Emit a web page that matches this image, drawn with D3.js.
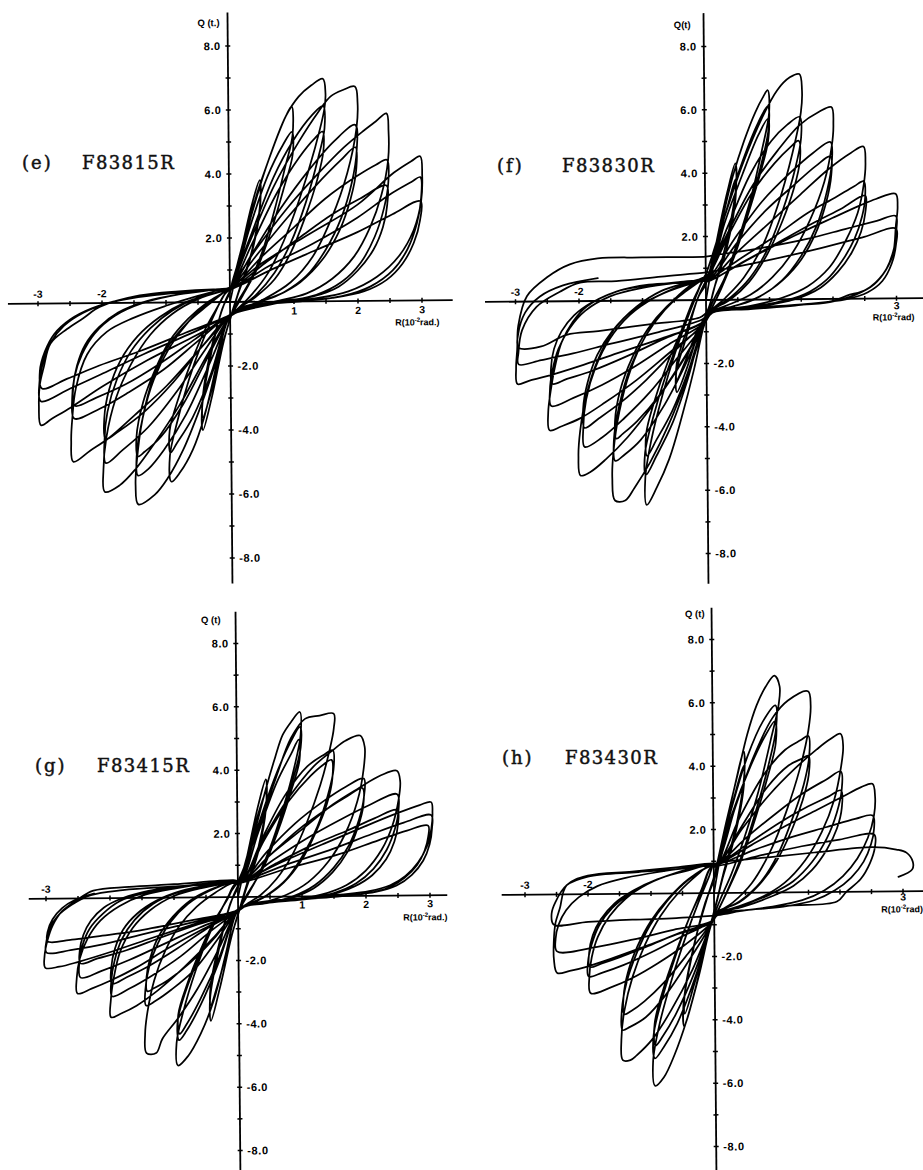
<!DOCTYPE html>
<html>
<head>
<meta charset="utf-8">
<script src="https://cdn.jsdelivr.net/npm/d3@7"></script>
<style>
  body { margin: 0; background: #fff; }
  svg { display: block; }
</style>
</head>
<body>
<svg id="chart" width="923" height="1170"></svg>
<script>
// ---- Text content ----
const panelTags = ["(e)", "(f)", "(g)", "(h)"];
const specimenNames = ["F83815R", "F83830R", "F83415R", "F83430R"];
const qAxisTitles = ["Q (t.)", "Q(t)", "Q (t)", "Q (t)"];
const rAxisTails = ["rad.)", "rad)", "rad.)", "rad)"];
const qTickValues = [8, 6, 4, 2, -2, -4, -6, -8];
const qTickLabels = ["8.0", "6.0", "4.0", "2.0", "-2.0", "-4.0", "-6.0", "-8.0"];
const rLabelsE = [-3, -2, 1, 2, 3];
const rLabelsF = [-3, -2, 3];
const rLabelsG = [-3, 1, 2, 3];
const rLabelsH = [-3, -2, 3];

// ---- Load–deflection records: each cycle is a list of [R (1e-2 rad), Q (t)] ----
const loopsE = [
 [[0,0],[0.15,1.3],[0.35,3.0],[0.48,3.8],[0.49,3.2],[0.35,1.6],[0.15,0.4],[0.05,-0.2],[-0.1,-1.2],[-0.3,-3.0],[-0.44,-4.0],[-0.45,-3.3],[-0.3,-1.6],[-0.12,-0.2],[0,0.3]],
 [[0.15,1.4],[0.36,2.9],[0.48,3.5],[0.48,2.9],[0.33,1.4],[0.12,0.2],[0.04,-0.3],[-0.12,-1.3],[-0.32,-2.9],[-0.44,-3.6],[-0.44,-3.0],[-0.28,-1.3],[-0.08,0],[0,0.35]],
 [[0.05,0.7],[0.25,2.0],[0.44,3.4],[0.6,4.3],[0.75,5.1],[0.9,5.8],[0.99,6.1],[1.0,5.2],[0.88,4.2],[0.7,2.8],[0.5,1.5],[0.3,0.6],[0.12,0],[0.05,-0.3],[-0.05,-0.6],[-0.2,-1.8],[-0.42,-3.6],[-0.6,-4.6],[-0.8,-5.3],[-0.94,-5.6],[-0.96,-4.8],[-0.85,-3.8],[-0.65,-2.4],[-0.45,-1.3],[-0.25,-0.4],[-0.1,0.2],[0,0.4]],
 [[0.05,0.5],[0.3,2.2],[0.6,3.9],[0.85,4.9],[0.99,5.3],[1.0,4.6],[0.85,3.5],[0.65,2.2],[0.42,1.0],[0.2,0.2],[0.05,-0.3],[-0.05,-0.6],[-0.3,-2.2],[-0.6,-3.6],[-0.85,-4.4],[-0.95,-4.7],[-0.96,-4.0],[-0.82,-3.0],[-0.6,-1.8],[-0.38,-0.8],[-0.18,-0.1],[-0.05,0.35]],
 [[0.05,0.6],[0.3,2.4],[0.6,4.3],[0.9,5.8],[1.1,6.4],[1.3,6.75],[1.48,6.95],[1.52,6.5],[1.5,6.0],[1.35,4.8],[1.1,3.2],[0.85,1.9],[0.6,0.9],[0.35,0.25],[0.1,-0.25],[0,-0.4],[-0.25,-2.0],[-0.5,-3.4],[-0.75,-4.6],[-1.0,-5.5],[-1.2,-6.0],[-1.46,-6.3],[-1.5,-5.7],[-1.48,-5.0],[-1.38,-3.6],[-1.2,-2.3],[-0.95,-1.3],[-0.65,-0.6],[-0.35,-0.1],[-0.1,0.3]],
 [[0,0.45],[0.3,1.9],[0.7,3.9],[1.0,5.0],[1.3,5.8],[1.48,6.1],[1.5,5.4],[1.4,4.5],[1.2,3.1],[0.95,1.8],[0.7,0.9],[0.4,0.2],[0.1,-0.25],[0,-0.45],[-0.3,-1.8],[-0.7,-3.5],[-1.05,-4.6],[-1.3,-5.2],[-1.46,-5.4],[-1.48,-4.8],[-1.38,-3.6],[-1.2,-2.4],[-0.95,-1.4],[-0.65,-0.6],[-0.35,-0.05],[-0.1,0.3]],
 [[0,0.4],[0.35,1.8],[0.75,3.4],[1.1,4.5],[1.35,5.1],[1.47,5.3],[1.48,4.7],[1.38,3.8],[1.18,2.6],[0.95,1.5],[0.7,0.7],[0.4,0.15],[0.1,-0.25],[0,-0.45],[-0.35,-1.7],[-0.75,-3.2],[-1.1,-4.2],[-1.35,-4.65],[-1.46,-4.8],[-1.48,-4.2],[-1.37,-3.1],[-1.18,-2.1],[-0.95,-1.2],[-0.65,-0.5],[-0.35,0],[-0.1,0.3]],
 [[0,0.45],[0.3,1.8],[0.7,3.6],[1.1,5.0],[1.4,5.9],[1.6,6.4],[1.8,6.6],[1.98,6.7],[2.02,6.2],[2.0,5.4],[1.85,4.0],[1.6,2.6],[1.3,1.4],[0.95,0.6],[0.55,0.1],[0.15,-0.25],[0,-0.45],[-0.35,-1.6],[-0.8,-3.2],[-1.2,-4.4],[-1.5,-5.2],[-1.75,-5.7],[-1.98,-5.9],[-2.0,-5.2],[-1.95,-4.2],[-1.8,-3.0],[-1.55,-1.9],[-1.25,-1.0],[-0.9,-0.35],[-0.5,0.1],[-0.1,0.35]],
 [[0,0.4],[0.35,1.5],[0.8,2.9],[1.25,4.1],[1.65,5.0],[1.98,5.5],[2.0,4.7],[1.92,3.7],[1.75,2.6],[1.5,1.6],[1.2,0.8],[0.85,0.3],[0.45,0],[0.15,-0.25],[0,-0.4],[-0.4,-1.5],[-0.85,-2.8],[-1.3,-3.9],[-1.7,-4.6],[-1.96,-5.0],[-1.98,-4.3],[-1.93,-3.4],[-1.78,-2.4],[-1.55,-1.5],[-1.25,-0.8],[-0.9,-0.25],[-0.5,0.15],[-0.1,0.35]],
 [[0,0.4],[0.4,1.4],[0.9,2.6],[1.35,3.6],[1.75,4.4],[1.98,4.8],[1.99,4.1],[1.9,3.2],[1.72,2.2],[1.45,1.3],[1.1,0.6],[0.75,0.2],[0.4,-0.05],[0.15,-0.25],[0,-0.4],[-0.45,-1.4],[-0.9,-2.5],[-1.35,-3.4],[-1.75,-4.0],[-1.96,-4.25],[-1.98,-3.6],[-1.9,-2.7],[-1.72,-1.8],[-1.45,-1.05],[-1.1,-0.45],[-0.7,0],[-0.3,0.25],[-0.05,0.4]],
 [[0,0.45],[0.4,1.6],[0.9,2.9],[1.4,4.0],[1.8,4.8],[2.1,5.3],[2.3,5.6],[2.47,5.85],[2.5,5.3],[2.49,4.4],[2.38,3.3],[2.2,2.3],[1.95,1.4],[1.6,0.7],[1.2,0.25],[0.7,0],[0.2,-0.25],[0,-0.45],[-0.45,-1.4],[-1.0,-2.6],[-1.5,-3.5],[-1.9,-4.2],[-2.2,-4.6],[-2.47,-4.95],[-2.5,-4.3],[-2.48,-3.6],[-2.42,-2.65],[-2.24,-1.6],[-1.93,-0.9],[-1.51,-0.47],[-1.0,-0.1],[-0.5,0.2],[-0.1,0.4]],
 [[0,0.4],[0.5,1.4],[1.0,2.3],[1.5,3.2],[2.0,3.9],[2.3,4.25],[2.47,4.4],[2.49,3.7],[2.42,2.9],[2.27,2.0],[2.05,1.2],[1.75,0.6],[1.35,0.2],[0.85,0],[0.25,-0.25],[0,-0.4],[-0.5,-1.2],[-1.05,-2.1],[-1.6,-2.8],[-2.05,-3.3],[-2.45,-3.6],[-2.48,-3.0],[-2.44,-2.3],[-2.32,-1.6],[-2.12,-0.95],[-1.8,-0.4],[-1.35,0],[-0.8,0.25],[-0.2,0.4]],
 [[0,0.4],[0.55,1.2],[1.1,2.0],[1.6,2.7],[2.05,3.2],[2.46,3.6],[2.47,3.0],[2.4,2.3],[2.25,1.6],[2.0,0.95],[1.7,0.45],[1.3,0.15],[0.8,0],[0.25,-0.25],[0,-0.4],[-0.55,-1.15],[-1.1,-1.9],[-1.65,-2.55],[-2.1,-2.95],[-2.44,-3.2],[-2.46,-2.6],[-2.4,-1.95],[-2.27,-1.3],[-2.05,-0.75],[-1.75,-0.3],[-1.3,0.05],[-0.8,0.25],[-0.2,0.4]],
 [[0,0.45],[0.5,1.2],[1.25,2.1],[2.0,3.0],[2.58,4.0],[2.85,4.35],[2.99,4.5],[3.02,3.9],[3.0,3.1],[2.88,2.2],[2.65,1.4],[2.3,0.75],[1.85,0.3],[1.3,0.08],[0.6,-0.05],[0.15,-0.25],[0,-0.45],[-0.6,-1.1],[-1.3,-1.8],[-2.0,-2.6],[-2.5,-3.25],[-2.8,-3.6],[-2.97,-3.8],[-3.0,-3.2],[-2.98,-2.5],[-2.92,-2.0],[-2.81,-1.25],[-2.55,-0.8],[-2.29,-0.46],[-2.03,-0.11],[-1.41,0.23],[-0.8,0.35],[-0.26,0.4]],
 [[0,0.4],[0.6,1.1],[1.3,1.8],[2.0,2.6],[2.5,3.3],[2.85,3.7],[2.99,3.85],[3.0,3.2],[2.93,2.4],[2.78,1.6],[2.55,0.95],[2.2,0.45],[1.75,0.15],[1.1,0],[0.4,-0.1],[0.1,-0.25],[0,-0.4],[-0.65,-1.0],[-1.35,-1.6],[-2.0,-2.2],[-2.5,-2.65],[-2.97,-3.05],[-2.99,-2.5],[-2.93,-1.85],[-2.8,-1.2],[-2.6,-0.7],[-2.3,-0.3],[-1.9,0],[-1.35,0.2],[-0.7,0.35],[-0.2,0.4]],
 [[0,0.4],[0.65,1.0],[1.35,1.6],[2.0,2.15],[2.55,2.7],[2.99,3.1],[2.98,2.5],[2.88,1.8],[2.7,1.15],[2.45,0.65],[2.1,0.3],[1.6,0.1],[1.0,0],[0.3,-0.1],[0.05,-0.3],[0,-0.4],[-0.7,-0.95],[-1.4,-1.5],[-2.05,-1.95],[-2.55,-2.35],[-2.95,-2.65],[-2.98,-2.1],[-2.9,-1.5],[-2.75,-0.95],[-2.5,-0.5],[-2.15,-0.15],[-1.7,0.1],[-1.1,0.25],[-0.5,0.35],[0,0.4]]
];

const loopsF = [
 [[0,0],[0.15,1.6],[0.35,3.4],[0.48,4.3],[0.49,3.6],[0.35,2.0],[0.15,0.5],[0.05,-0.2],[-0.12,-1.0],[-0.32,-2.2],[-0.47,-2.9],[-0.48,-2.3],[-0.32,-1.2],[-0.12,0.1],[0,0.5]],
 [[0.15,1.6],[0.36,3.0],[0.48,3.8],[0.48,3.2],[0.33,1.6],[0.12,0.3],[0.04,-0.3],[-0.15,-1.0],[-0.35,-2.0],[-0.47,-2.5],[-0.47,-2.0],[-0.3,-0.9],[-0.1,0.2],[0,0.6]],
 [[0.05,0.8],[0.25,2.4],[0.44,3.9],[0.62,5.0],[0.8,5.9],[0.93,6.4],[1.0,6.6],[1.02,5.9],[0.9,4.7],[0.72,3.2],[0.5,1.8],[0.3,0.7],[0.12,0],[0.03,-0.4],[-0.05,-0.9],[-0.2,-2.2],[-0.4,-3.7],[-0.6,-5.0],[-0.8,-5.9],[-0.96,-6.45],[-0.98,-5.6],[-0.88,-4.4],[-0.7,-3.0],[-0.5,-1.7],[-0.3,-0.6],[-0.12,0.3],[0,0.8]],
 [[0.05,0.8],[0.3,2.6],[0.6,4.4],[0.85,5.6],[1.0,6.1],[1.01,5.4],[0.88,4.2],[0.68,2.8],[0.45,1.4],[0.25,0.4],[0.08,-0.3],[-0.05,-0.8],[-0.3,-2.5],[-0.55,-3.9],[-0.8,-4.9],[-0.97,-5.5],[-0.98,-4.8],[-0.85,-3.7],[-0.65,-2.4],[-0.42,-1.2],[-0.2,-0.1],[-0.05,0.6]],
 [[0.05,0.7],[0.3,2.4],[0.6,4.0],[0.85,5.2],[1.0,5.7],[1.0,5.0],[0.86,3.9],[0.66,2.6],[0.44,1.3],[0.24,0.35],[0.08,-0.3],[-0.05,-0.8],[-0.3,-2.3],[-0.55,-3.5],[-0.8,-4.4],[-0.95,-4.9],[-0.96,-4.2],[-0.83,-3.2],[-0.62,-2.0],[-0.4,-1.0],[-0.2,0],[-0.05,0.6]],
 [[0,0.8],[0.3,2.6],[0.6,4.3],[0.9,5.7],[1.15,6.6],[1.35,7.0],[1.5,7.1],[1.54,6.6],[1.52,5.9],[1.38,4.6],[1.15,3.0],[0.9,1.7],[0.6,0.7],[0.3,0.05],[0.05,-0.4],[-0.05,-0.9],[-0.3,-2.4],[-0.6,-3.9],[-0.9,-5.1],[-1.15,-5.9],[-1.3,-6.3],[-1.46,-6.3],[-1.5,-5.6],[-1.48,-4.8],[-1.38,-3.5],[-1.2,-2.2],[-0.95,-1.1],[-0.65,-0.3],[-0.35,0.3],[-0.05,0.7]],
 [[0,0.7],[0.35,2.3],[0.7,3.9],[1.05,5.0],[1.3,5.5],[1.5,5.75],[1.52,5.1],[1.42,4.1],[1.22,2.8],[0.98,1.6],[0.7,0.7],[0.4,0.1],[0.08,-0.35],[-0.05,-0.8],[-0.35,-2.1],[-0.7,-3.4],[-1.05,-4.4],[-1.3,-4.85],[-1.45,-5.05],[-1.47,-4.4],[-1.38,-3.3],[-1.2,-2.1],[-0.95,-1.1],[-0.65,-0.3],[-0.35,0.25],[-0.05,0.65]],
 [[0,0.65],[0.38,2.1],[0.75,3.4],[1.1,4.3],[1.35,4.8],[1.48,5.0],[1.5,4.4],[1.4,3.5],[1.2,2.4],[0.95,1.35],[0.68,0.55],[0.38,0],[0.08,-0.35],[-0.05,-0.8],[-0.38,-1.9],[-0.75,-3.0],[-1.1,-3.8],[-1.33,-4.2],[-1.43,-4.35],[-1.45,-3.8],[-1.36,-2.8],[-1.17,-1.8],[-0.92,-0.9],[-0.62,-0.2],[-0.3,0.3],[-0.05,0.65]],
 [[0,0.7],[0.35,2.1],[0.75,3.6],[1.15,4.7],[1.5,5.5],[1.8,5.9],[2.0,6.05],[2.03,5.5],[2.0,4.8],[1.88,3.7],[1.65,2.5],[1.38,1.5],[1.05,0.7],[0.7,0.15],[0.3,-0.2],[0.05,-0.4],[-0.05,-0.8],[-0.4,-2.0],[-0.85,-3.3],[-1.25,-4.3],[-1.6,-5.0],[-1.85,-5.4],[-2.0,-5.5],[-2.03,-4.9],[-2.0,-4.1],[-1.9,-3.0],[-1.72,-1.9],[-1.45,-0.9],[-1.1,-0.2],[-0.7,0.3],[-0.3,0.55],[0,0.7]],
 [[0.05,0.7],[0.45,1.9],[0.9,3.1],[1.35,4.0],[1.7,4.6],[1.98,4.95],[2.0,4.3],[1.92,3.4],[1.75,2.3],[1.5,1.35],[1.2,0.6],[0.85,0.1],[0.45,-0.2],[0.05,-0.4],[-0.05,-0.8],[-0.45,-1.8],[-0.9,-2.9],[-1.3,-3.7],[-1.65,-4.3],[-1.93,-4.6],[-1.95,-4.0],[-1.9,-3.1],[-1.75,-2.1],[-1.52,-1.2],[-1.2,-0.45],[-0.8,0.1],[-0.4,0.45],[-0.05,0.65]],
 [[0.05,0.65],[0.5,1.8],[0.95,2.8],[1.4,3.6],[1.75,4.2],[1.98,4.5],[1.99,3.9],[1.9,3.0],[1.72,2.0],[1.45,1.1],[1.12,0.45],[0.75,0],[0.35,-0.25],[0.05,-0.4],[-0.05,-0.75],[-0.5,-1.6],[-0.95,-2.5],[-1.35,-3.2],[-1.7,-3.7],[-1.93,-4.0],[-1.95,-3.4],[-1.88,-2.6],[-1.72,-1.7],[-1.48,-0.95],[-1.15,-0.3],[-0.75,0.15],[-0.35,0.45],[-0.05,0.6]],
 [[0.05,0.6],[0.5,1.5],[1.0,2.4],[1.5,3.3],[1.95,4.1],[2.3,4.6],[2.5,4.8],[2.53,4.3],[2.5,3.6],[2.4,2.7],[2.2,1.8],[1.95,1.0],[1.6,0.4],[1.2,0.05],[0.7,-0.2],[0.1,-0.4],[-0.05,-0.8],[-0.55,-1.6],[-1.1,-2.5],[-1.6,-3.2],[-2.0,-3.7],[-2.3,-3.95],[-2.48,-4.07],[-2.5,-3.5],[-2.46,-2.85],[-2.38,-2.0],[-2.28,-1.3],[-2.1,-0.65],[-1.88,-0.17],[-1.41,0.29],[-0.93,0.47],[-0.4,0.58],[0,0.64]],
 [[0.05,0.65],[0.55,1.3],[1.1,2.0],[1.6,2.7],[2.05,3.2],[2.35,3.55],[2.5,3.7],[2.52,3.2],[2.47,2.6],[2.35,1.9],[2.15,1.2],[1.9,0.6],[1.55,0.15],[1.1,-0.1],[0.55,-0.25],[0.1,-0.4],[-0.05,-0.75],[-0.6,-1.4],[-1.15,-2.1],[-1.65,-2.65],[-2.1,-3.05],[-2.45,-3.3],[-2.47,-2.8],[-2.43,-2.2],[-2.33,-1.5],[-2.15,-0.85],[-1.9,-0.3],[-1.5,0.15],[-1.0,0.4],[-0.45,0.55],[0,0.62]],
 [[0.05,0.6],[0.6,1.2],[1.15,1.8],[1.7,2.4],[2.15,2.85],[2.52,3.25],[2.52,2.7],[2.45,2.1],[2.3,1.45],[2.08,0.85],[1.8,0.35],[1.4,0],[0.9,-0.2],[0.35,-0.3],[0.05,-0.4],[-0.05,-0.7],[-0.65,-1.2],[-1.25,-1.75],[-1.8,-2.2],[-2.2,-2.45],[-2.43,-2.6],[-2.45,-2.1],[-2.4,-1.5],[-2.28,-0.95],[-2.08,-0.45],[-1.8,-0.05],[-1.4,0.3],[-0.9,0.5],[-0.4,0.55],[0,0.6]],
 [[0.05,0.6],[0.7,1.3],[1.4,2.0],[2.0,2.55],[2.45,2.95],[2.69,3.14],[3.0,3.3],[3.03,2.9],[3.0,2.3],[2.95,1.4],[2.79,0.76],[2.53,0.29],[2.22,0.1],[2.0,-0.06],[1.4,-0.2],[0.7,-0.3],[0.1,-0.4],[-0.05,-0.7],[-0.7,-1.2],[-1.4,-1.65],[-2.0,-2.05],[-2.5,-2.35],[-2.8,-2.5],[-2.98,-2.6],[-3.0,-2.1],[-2.98,-1.5],[-2.96,-0.76],[-2.82,0.17],[-2.5,0.76],[-2.14,1.16],[-1.7,1.34],[-1.0,1.36],[0,1.37]],
 [[0.1,1.4],[0.8,1.6],[1.6,1.9],[2.2,2.2],[2.7,2.45],[3.0,2.6],[3.01,2.2],[2.97,1.6],[2.85,0.95],[2.65,0.45],[2.35,0.12],[1.95,-0.1],[1.3,-0.2],[0.6,-0.3],[0.05,-0.4],[-0.05,-0.6],[-0.75,-1.0],[-1.5,-1.35],[-2.1,-1.65],[-2.6,-1.85],[-2.96,-1.98],[-2.96,-1.6],[-2.9,-0.9],[-2.67,-0.17],[-2.3,0.3],[-1.98,0.58],[-1.41,0.62],[-0.7,0.75],[0,0.87]],
 [[0.1,0.9],[0.9,1.2],[1.8,1.6],[2.5,1.95],[3.0,2.2],[3.0,1.7],[2.93,1.1],[2.78,0.55],[2.55,0.2],[2.2,-0.02],[1.6,-0.15],[0.8,-0.25],[0.05,-0.35],[-0.1,-0.55],[-0.9,-0.75],[-1.7,-0.95],[-2.2,-1.06],[-2.6,-1.42],[-2.96,-1.45],[-2.96,-1.0],[-2.85,-0.35],[-2.62,0.15],[-2.25,0.5],[-1.7,0.72]]
];

const loopsG = [
 [[0,0],[0.15,1.3],[0.33,2.9],[0.45,3.7],[0.46,3.1],[0.33,1.6],[0.14,0.4],[0.05,-0.2],[-0.1,-1.2],[-0.3,-2.9],[-0.44,-3.9],[-0.45,-3.2],[-0.3,-1.6],[-0.12,-0.2],[0,0.3]],
 [[0.15,1.3],[0.34,2.7],[0.45,3.3],[0.45,2.8],[0.32,1.4],[0.12,0.2],[0.04,-0.3],[-0.12,-1.3],[-0.32,-2.7],[-0.44,-3.4],[-0.44,-2.8],[-0.28,-1.3],[-0.08,0],[0,0.35]],
 [[0.05,0.6],[0.25,1.9],[0.45,3.4],[0.6,4.4],[0.72,5.1],[0.85,5.5],[0.99,5.82],[1.0,5.1],[0.9,4.1],[0.72,2.8],[0.5,1.5],[0.3,0.6],[0.12,0],[0.05,-0.3],[-0.05,-0.6],[-0.2,-1.8],[-0.4,-3.3],[-0.6,-4.3],[-0.8,-5.0],[-0.96,-5.3],[-0.98,-4.6],[-0.87,-3.6],[-0.67,-2.3],[-0.46,-1.2],[-0.25,-0.35],[-0.1,0.2],[0,0.45]],
 [[0.05,0.5],[0.3,2.1],[0.6,3.8],[0.85,4.9],[0.99,5.35],[1.0,4.7],[0.86,3.6],[0.66,2.3],[0.43,1.1],[0.22,0.3],[0.06,-0.25],[-0.05,-0.55],[-0.3,-2.0],[-0.6,-3.4],[-0.82,-4.2],[-0.94,-4.5],[-0.96,-3.9],[-0.82,-2.9],[-0.6,-1.8],[-0.38,-0.8],[-0.18,-0.1],[-0.05,0.4]],
 [[0.05,0.45],[0.32,2.0],[0.62,3.6],[0.85,4.5],[0.97,4.95],[0.98,4.3],[0.84,3.3],[0.64,2.1],[0.42,1.0],[0.2,0.25],[0.06,-0.25],[-0.05,-0.55],[-0.3,-1.9],[-0.6,-3.2],[-0.82,-4.0],[-0.93,-4.3],[-0.95,-3.7],[-0.8,-2.7],[-0.58,-1.6],[-0.36,-0.7],[-0.16,-0.05],[-0.05,0.4]],
 [[0,0.5],[0.3,2.0],[0.6,3.7],[0.85,5.0],[1.07,5.6],[1.3,5.7],[1.52,5.76],[1.52,5.3],[1.45,4.6],[1.3,3.5],[1.08,2.3],[0.85,1.3],[0.6,0.55],[0.35,0.05],[0.08,-0.3],[-0.05,-0.55],[-0.3,-1.6],[-0.65,-2.9],[-0.95,-3.8],[-1.2,-4.45],[-1.3,-4.9],[-1.45,-4.9],[-1.47,-4.3],[-1.43,-3.6],[-1.32,-2.6],[-1.15,-1.7],[-0.92,-0.9],[-0.65,-0.3],[-0.35,0.15],[-0.08,0.45]],
 [[0.05,0.45],[0.4,1.9],[0.75,3.2],[1.1,4.1],[1.35,4.45],[1.5,4.6],[1.51,4.0],[1.42,3.2],[1.25,2.2],[1.02,1.3],[0.76,0.55],[0.45,0.05],[0.1,-0.3],[-0.05,-0.55],[-0.35,-1.4],[-0.7,-2.3],[-1.05,-2.9],[-1.3,-3.25],[-1.45,-3.4],[-1.46,-2.9],[-1.4,-2.2],[-1.26,-1.45],[-1.05,-0.75],[-0.78,-0.2],[-0.45,0.2],[-0.1,0.45]],
 [[0.05,0.45],[0.42,1.8],[0.8,3.0],[1.15,3.8],[1.35,4.15],[1.48,4.3],[1.49,3.7],[1.4,2.9],[1.22,2.0],[1.0,1.15],[0.72,0.45],[0.42,0],[0.1,-0.3],[-0.05,-0.5],[-0.38,-1.3],[-0.75,-2.05],[-1.1,-2.6],[-1.32,-2.85],[-1.43,-2.95],[-1.44,-2.5],[-1.38,-1.9],[-1.24,-1.2],[-1.02,-0.6],[-0.75,-0.1],[-0.42,0.25],[-0.1,0.45]],
 [[0.05,0.45],[0.4,1.8],[0.8,3.1],[1.2,4.1],[1.5,4.6],[1.7,4.9],[1.93,5.06],[2.0,4.7],[1.98,4.0],[1.88,3.0],[1.68,1.95],[1.42,1.1],[1.1,0.45],[0.75,0.05],[0.35,-0.2],[0.08,-0.3],[-0.05,-0.5],[-0.4,-1.3],[-0.85,-2.2],[-1.25,-2.9],[-1.6,-3.4],[-1.85,-3.65],[-2.0,-3.76],[-2.0,-3.2],[-1.95,-2.5],[-1.85,-1.7],[-1.65,-0.95],[-1.38,-0.4],[-1.0,0.05],[-0.55,0.3],[-0.1,0.45]],
 [[0.05,0.45],[0.45,1.4],[0.9,2.3],[1.35,3.0],[1.7,3.45],[1.98,3.7],[1.98,3.1],[1.9,2.4],[1.74,1.6],[1.5,0.9],[1.2,0.35],[0.85,0],[0.45,-0.2],[0.08,-0.3],[-0.05,-0.5],[-0.45,-1.1],[-0.9,-1.85],[-1.35,-2.45],[-1.7,-2.85],[-1.98,-3.1],[-1.99,-2.6],[-1.94,-2.0],[-1.82,-1.3],[-1.62,-0.7],[-1.33,-0.2],[-0.95,0.15],[-0.5,0.35],[-0.1,0.45]],
 [[0.05,0.45],[0.5,1.3],[0.95,2.1],[1.4,2.75],[1.72,3.15],[1.96,3.4],[1.97,2.85],[1.88,2.15],[1.72,1.4],[1.48,0.75],[1.18,0.25],[0.82,-0.05],[0.42,-0.2],[0.08,-0.3],[-0.05,-0.5],[-0.5,-1.0],[-0.95,-1.6],[-1.4,-2.15],[-1.75,-2.5],[-1.98,-2.7],[-1.99,-2.2],[-1.93,-1.6],[-1.8,-1.0],[-1.58,-0.5],[-1.28,-0.1],[-0.9,0.2],[-0.45,0.38],[-0.1,0.45]],
 [[0.05,0.45],[0.5,1.3],[1.0,2.1],[1.5,2.9],[1.9,3.4],[2.25,3.8],[2.5,3.94],[2.55,3.6],[2.52,3.0],[2.42,2.2],[2.25,1.45],[2.0,0.8],[1.7,0.35],[1.3,0.05],[0.8,-0.12],[0.1,-0.3],[-0.05,-0.5],[-0.55,-1.0],[-1.1,-1.6],[-1.6,-2.2],[-2.0,-2.6],[-2.3,-2.85],[-2.52,-3.0],[-2.53,-2.5],[-2.48,-1.9],[-2.35,-1.25],[-2.15,-0.7],[-1.85,-0.25],[-1.45,0.1],[-0.95,0.3],[-0.4,0.45],[0,0.5]],
 [[0.05,0.45],[0.55,1.15],[1.1,1.85],[1.6,2.4],[2.05,2.85],[2.5,3.2],[2.52,2.7],[2.46,2.1],[2.33,1.45],[2.12,0.85],[1.85,0.4],[1.5,0.1],[1.0,-0.08],[0.45,-0.2],[0.08,-0.3],[-0.05,-0.5],[-0.6,-0.95],[-1.15,-1.45],[-1.7,-1.95],[-2.15,-2.3],[-2.47,-2.5],[-2.49,-2.05],[-2.44,-1.5],[-2.32,-0.95],[-2.12,-0.5],[-1.85,-0.1],[-1.45,0.15],[-0.95,0.32],[-0.4,0.45],[0,0.5]],
 [[0.05,0.45],[0.6,1.05],[1.15,1.6],[1.7,2.05],[2.15,2.45],[2.5,2.7],[2.51,2.25],[2.45,1.7],[2.32,1.15],[2.1,0.65],[1.82,0.3],[1.45,0.05],[0.95,-0.1],[0.4,-0.2],[0.08,-0.3],[-0.05,-0.5],[-0.62,-0.85],[-1.2,-1.25],[-1.75,-1.65],[-2.2,-1.9],[-2.47,-2.05],[-2.48,-1.65],[-2.42,-1.15],[-2.3,-0.7],[-2.1,-0.3],[-1.8,0],[-1.4,0.22],[-0.9,0.35],[-0.4,0.45],[0,0.5]],
 [[0.05,0.5],[0.7,1.1],[1.4,1.7],[2.0,2.2],[2.5,2.6],[2.85,2.85],[3.03,2.94],[3.05,2.6],[3.03,2.1],[2.96,1.55],[2.82,1.05],[2.62,0.62],[2.38,0.33],[2.05,0.15],[1.6,0.05],[1.0,-0.05],[0.14,-0.24],[-0.05,-0.45],[-0.7,-0.85],[-1.4,-1.3],[-2.0,-1.7],[-2.5,-2.0],[-2.8,-2.15],[-3.02,-2.18],[-3.03,-1.8],[-2.98,-1.3],[-2.9,-0.85],[-2.75,-0.4],[-2.52,-0.06],[-2.26,0.24],[-1.7,0.35],[-1.0,0.42],[-0.07,0.53]],
 [[0.05,0.5],[0.75,1.0],[1.5,1.5],[2.1,1.95],[2.6,2.3],[3.03,2.53],[3.04,2.1],[3.0,1.6],[2.9,1.1],[2.72,0.65],[2.48,0.32],[2.15,0.12],[1.7,0.02],[1.0,-0.1],[0.14,-0.28],[-0.05,-0.45],[-0.75,-0.8],[-1.5,-1.15],[-2.1,-1.45],[-2.6,-1.62],[-3.0,-1.7],[-3.0,-1.35],[-2.95,-0.95],[-2.82,-0.55],[-2.6,-0.2],[-2.3,0.1],[-1.8,0.25],[-1.0,0.35],[-0.05,0.45]],
 [[0.05,0.45],[0.8,0.9],[1.55,1.3],[2.2,1.75],[2.65,2.05],[2.98,2.2],[2.98,1.85],[2.92,1.4],[2.8,0.95],[2.6,0.55],[2.35,0.25],[2.0,0.08],[1.5,-0.02],[0.8,-0.12],[0.1,-0.3],[-0.05,-0.45],[-0.8,-0.75],[-1.6,-1.05],[-2.2,-1.2],[-2.6,-1.3],[-2.98,-1.35],[-2.98,-1.05],[-2.9,-0.65],[-2.75,-0.3],[-2.55,-0.05],[-2.25,0.15]]
];

const loopsH = [
 [[0,0],[0.15,1.6],[0.36,3.5],[0.49,4.46],[0.5,3.8],[0.36,2.1],[0.15,0.6],[0.05,-0.2],[-0.1,-1.3],[-0.32,-3.1],[-0.49,-4.2],[-0.5,-3.5],[-0.34,-1.8],[-0.14,-0.3],[0,0.4]],
 [[0.15,1.6],[0.36,3.2],[0.49,4.0],[0.49,3.4],[0.34,1.8],[0.13,0.4],[0.04,-0.3],[-0.12,-1.4],[-0.33,-2.9],[-0.48,-3.8],[-0.48,-3.2],[-0.32,-1.6],[-0.1,-0.1],[0,0.5]],
 [[0.05,0.9],[0.2,2.2],[0.4,3.8],[0.55,5.0],[0.7,5.9],[0.85,6.5],[0.99,6.84],[1.07,6.5],[1.05,5.9],[0.92,4.8],[0.72,3.2],[0.5,1.8],[0.28,0.6],[0.1,-0.2],[0.02,-0.6],[-0.08,-1.2],[-0.25,-2.6],[-0.45,-4.0],[-0.65,-5.1],[-0.82,-5.8],[-0.96,-6.07],[-0.99,-5.3],[-0.88,-4.1],[-0.68,-2.7],[-0.46,-1.4],[-0.25,-0.3],[-0.08,0.5],[0,0.9]],
 [[0.05,0.9],[0.28,2.6],[0.55,4.3],[0.8,5.4],[1.0,5.9],[1.01,5.2],[0.88,4.0],[0.68,2.6],[0.45,1.2],[0.22,0.1],[0.05,-0.6],[-0.05,-1.0],[-0.3,-2.6],[-0.6,-4.1],[-0.82,-4.85],[-0.96,-5.2],[-0.98,-4.5],[-0.85,-3.4],[-0.64,-2.1],[-0.42,-0.9],[-0.2,0.1],[-0.05,0.8]],
 [[0.05,0.85],[0.3,2.5],[0.6,4.0],[0.85,5.0],[0.99,5.4],[1.0,4.7],[0.86,3.6],[0.66,2.3],[0.43,1.0],[0.2,0],[0.05,-0.6],[-0.05,-1.0],[-0.32,-2.5],[-0.62,-3.8],[-0.83,-4.5],[-0.95,-4.8],[-0.96,-4.1],[-0.83,-3.1],[-0.62,-1.9],[-0.4,-0.8],[-0.18,0.15],[-0.05,0.8]],
 [[0.05,0.9],[0.35,2.7],[0.65,4.3],[0.95,5.5],[1.2,6.05],[1.52,6.34],[1.56,5.9],[1.52,5.1],[1.38,3.9],[1.15,2.5],[0.9,1.3],[0.6,0.3],[0.3,-0.3],[0.05,-0.65],[-0.05,-1.0],[-0.35,-2.4],[-0.7,-3.7],[-1.0,-4.6],[-1.25,-5.1],[-1.35,-5.25],[-1.47,-5.25],[-1.49,-4.6],[-1.44,-3.7],[-1.3,-2.6],[-1.1,-1.6],[-0.85,-0.7],[-0.55,0.05],[-0.25,0.6],[-0.05,0.9]],
 [[0.05,0.85],[0.4,2.3],[0.8,3.7],[1.15,4.5],[1.4,4.8],[1.52,4.93],[1.53,4.3],[1.44,3.4],[1.25,2.3],[1.02,1.2],[0.75,0.35],[0.42,-0.25],[0.05,-0.65],[-0.05,-1.0],[-0.4,-2.1],[-0.78,-3.2],[-1.1,-3.9],[-1.35,-4.2],[-1.47,-4.3],[-1.48,-3.7],[-1.4,-2.8],[-1.24,-1.9],[-1.02,-1.0],[-0.75,-0.25],[-0.42,0.4],[-0.05,0.85]],
 [[0.05,0.85],[0.45,2.1],[0.85,3.3],[1.2,4.0],[1.4,4.2],[1.52,4.3],[1.52,3.7],[1.42,2.9],[1.24,1.95],[1.0,1.0],[0.72,0.25],[0.4,-0.3],[0.05,-0.6],[-0.05,-0.95],[-0.42,-1.9],[-0.8,-2.8],[-1.12,-3.4],[-1.33,-3.7],[-1.44,-3.8],[-1.45,-3.25],[-1.38,-2.5],[-1.22,-1.65],[-1.0,-0.85],[-0.72,-0.15],[-0.4,0.45],[-0.05,0.85]],
 [[0.05,0.85],[0.45,2.0],[0.9,3.1],[1.3,3.9],[1.65,4.5],[1.85,4.8],[2.03,4.99],[2.07,4.6],[2.03,3.9],[1.92,2.9],[1.72,1.9],[1.45,1.0],[1.12,0.3],[0.75,-0.15],[0.35,-0.45],[0.05,-0.65],[-0.05,-0.95],[-0.45,-1.6],[-0.9,-2.2],[-1.3,-2.65],[-1.65,-2.95],[-1.97,-3.13],[-1.99,-2.6],[-1.95,-2.0],[-1.85,-1.35],[-1.66,-0.7],[-1.4,-0.15],[-1.05,0.3],[-0.6,0.65],[-0.1,0.9]],
 [[0.05,0.9],[0.5,1.7],[1.0,2.5],[1.45,3.15],[1.8,3.55],[2.03,3.8],[2.04,3.2],[1.96,2.5],[1.8,1.7],[1.56,0.95],[1.26,0.35],[0.9,-0.05],[0.45,-0.4],[0.05,-0.65],[-0.05,-0.9],[-0.5,-1.35],[-1.0,-1.85],[-1.45,-2.25],[-1.78,-2.48],[-2.0,-2.6],[-2.01,-2.15],[-1.95,-1.6],[-1.83,-1.0],[-1.62,-0.45],[-1.33,0],[-0.95,0.4],[-0.5,0.7],[-0.05,0.9]],
 [[0.05,0.9],[0.55,1.55],[1.05,2.2],[1.5,2.7],[1.82,3.0],[2.03,3.2],[2.04,2.65],[1.96,2.0],[1.8,1.35],[1.56,0.7],[1.26,0.2],[0.88,-0.15],[0.45,-0.45],[0.05,-0.65],[-0.05,-0.9],[-0.55,-1.25],[-1.05,-1.65],[-1.5,-2.0],[-1.8,-2.2],[-1.98,-2.3],[-1.99,-1.85],[-1.93,-1.3],[-1.8,-0.8],[-1.58,-0.3],[-1.28,0.1],[-0.9,0.45],[-0.45,0.7],[-0.05,0.9]],
 [[0.05,0.9],[0.6,1.5],[1.15,2.1],[1.65,2.6],[2.05,3.0],[2.35,3.3],[2.53,3.4],[2.57,3.0],[2.55,2.4],[2.45,1.7],[2.28,1.05],[2.05,0.5],[1.75,0.05],[1.4,-0.25],[0.9,-0.45],[0.4,-0.58],[0.05,-0.7],[-0.05,-0.95],[-0.6,-1.3],[-1.15,-1.7],[-1.65,-2.05],[-2.05,-2.3],[-2.3,-2.42],[-2.5,-2.48],[-2.55,-2.05],[-2.55,-1.5],[-2.52,-0.9],[-2.45,-0.45],[-2.34,0.28],[-2.0,0.58],[-1.3,0.7],[-0.6,0.82],[0,0.93]],
 [[0.05,0.9],[0.65,1.35],[1.25,1.75],[1.8,2.05],[2.25,2.3],[2.53,2.4],[2.55,2.0],[2.5,1.5],[2.38,0.95],[2.18,0.45],[1.92,0.05],[1.6,-0.25],[1.1,-0.45],[0.5,-0.55],[0.05,-0.65],[-0.05,-0.9],[-0.65,-1.15],[-1.3,-1.45],[-1.9,-1.68],[-2.5,-1.8],[-2.52,-1.4],[-2.47,-0.95],[-2.35,-0.5],[-2.15,-0.1],[-1.85,0.25],[-1.4,0.5],[-0.8,0.7],[-0.2,0.85]],
 [[0.05,0.85],[0.7,1.15],[1.4,1.45],[2.0,1.65],[2.55,1.8],[2.56,1.4],[2.48,0.9],[2.33,0.4],[2.1,0],[1.95,-0.3],[1.2,-0.42],[0.5,-0.55],[0.05,-0.7],[-0.6,-0.78],[-1.3,-0.82],[-2.0,-0.88],[-2.55,-0.95],[-2.58,-0.6],[-2.52,-0.25],[-2.34,0.28],[-2.0,0.55],[-1.2,0.68],[-0.5,0.78],[0,0.9]],
 [[0.05,0.95],[0.8,1.1],[1.6,1.25],[2.53,1.4],[2.9,1.32],[3.06,1.22],[3.16,0.93],[3.15,0.69],[2.93,0.46]]
];

// ---- Panel geometry (pixel origin, pixels per unit, axis extents, label offsets) ----
const layout = [
  { loops: loopsE, rLabels: rLabelsE, ox: 230, oy: 302, ux: 64,   uy: 32,   rExt: [-3.47, 3.48], qExt: [9.05, -8.8],
    tag: [22, 169], name: [82, 169], qTitle: [222, 26], posLabelDy: 13, rTitleDx: -27, rTitleDy: 25 },
  { loops: loopsF, rLabels: rLabelsF, ox: 706, oy: 300, ux: 63.5, uy: 31.7, rExt: [-3.48, 3.5],  qExt: [9.05, -8.95],
    tag: [497, 172], name: [562, 172], qTitle: [693, 28], posLabelDy: 11, rTitleDx: -24, rTitleDy: 22 },
  { loops: loopsG, rLabels: rLabelsG, ox: 238, oy: 897, ux: 64,   uy: 31.7, rExt: [-3.27, 3.27], qExt: [9.0, -8.7],
    tag: [35, 772], name: [97, 772], qTitle: [223, 623], posLabelDy: 12, rTitleDx: -27, rTitleDy: 25 },
  { loops: loopsH, rLabels: rLabelsH, ox: 714, oy: 893, ux: 63,   uy: 31.7, rExt: [-3.37, 3.4],  qExt: [9.0, -8.8],
    tag: [502, 764], name: [565, 764], qTitle: [707, 617], posLabelDy: 9, rTitleDx: -22, rTitleDy: 21 }
];

const svg = d3.select("#chart");
const labelFont = "'Liberation Sans', Arial, sans-serif";
const captionFont = "'DejaVu Serif', serif";

layout.forEach((p, i) => {
  const x = d3.scaleLinear().domain([0, 1]).range([p.ox, p.ox + p.ux]);
  const y = d3.scaleLinear().domain([0, 1]).range([p.oy, p.oy - p.uy]);

  // specimen caption
  svg.append("text").attr("x", p.tag[0]).attr("y", p.tag[1])
    .attr("font-family", captionFont).attr("font-size", 18)
    .attr("letter-spacing", 2).attr("fill", "#111")
    .attr("stroke", "#111").attr("stroke-width", 0.45)
    .text(panelTags[i]);
  svg.append("text").attr("x", p.name[0]).attr("y", p.name[1])
    .attr("font-family", captionFont).attr("font-size", 18)
    .attr("letter-spacing", 1.4).attr("fill", "#111")
    .attr("stroke", "#111").attr("stroke-width", 0.45)
    .text(specimenNames[i]);

  // plotter sheet is slightly rotated
  const g = svg.append("g").attr("transform", `rotate(-0.5, ${p.ox}, ${p.oy})`);

  // axes through the origin
  g.append("line").attr("x1", x(p.rExt[0])).attr("x2", x(p.rExt[1]))
    .attr("y1", y(0)).attr("y2", y(0)).attr("stroke", "#000").attr("stroke-width", 1.8);
  g.append("line").attr("x1", x(0)).attr("x2", x(0))
    .attr("y1", y(p.qExt[0])).attr("y2", y(p.qExt[1])).attr("stroke", "#000").attr("stroke-width", 1.8);

  // tick crosses
  const rTicks = d3.range(-6, 7).map(k => k * 0.5).filter(v => v !== 0);
  g.selectAll(null).data(rTicks).enter().append("line")
    .attr("x1", d => x(d)).attr("x2", d => x(d))
    .attr("y1", y(0) - 2.5).attr("y2", y(0) + 2.5)
    .attr("stroke", "#000").attr("stroke-width", 1.5);
  const qTicks = d3.range(-8, 9).filter(v => v !== 0);
  g.selectAll(null).data(qTicks).enter().append("line")
    .attr("x1", x(0) - 2.5).attr("x2", x(0) + 2.5)
    .attr("y1", d => y(d)).attr("y2", d => y(d))
    .attr("stroke", "#000").attr("stroke-width", 1.5);

  // Q tick labels: positive on the left, negative on the right
  g.selectAll(null).data(qTickValues).enter().append("text")
    .attr("x", d => d > 0 ? x(0) - 7 : x(0) + 7)
    .attr("y", d => y(d)).attr("dy", "0.36em")
    .attr("text-anchor", d => d > 0 ? "end" : "start")
    .attr("font-family", labelFont).attr("font-weight", "bold").attr("font-size", 11)
    .attr("letter-spacing", 0.6)
    .text((d, k) => qTickLabels[k]);

  // R tick labels: negative above the axis, positive below
  g.selectAll(null).data(p.rLabels).enter().append("text")
    .attr("x", d => x(d)).attr("y", d => d < 0 ? y(0) - 6 : y(0) + p.posLabelDy)
    .attr("text-anchor", "middle")
    .attr("font-family", labelFont).attr("font-weight", "bold").attr("font-size", 10.5)
    .text(d => d);

  // axis titles
  g.append("text").attr("x", p.qTitle[0]).attr("y", p.qTitle[1])
    .attr("text-anchor", "end")
    .attr("font-family", labelFont).attr("font-weight", "bold").attr("font-size", 9.5)
    .text(qAxisTitles[i]);
  const rt = g.append("text").attr("x", x(3) + p.rTitleDx).attr("y", y(0) + p.rTitleDy)
    .attr("font-family", labelFont).attr("font-weight", "bold").attr("font-size", 9);
  rt.append("tspan").text("R(10");
  rt.append("tspan").attr("font-size", 6).attr("dy", -3.5).text("-2");
  rt.append("tspan").attr("dy", 3.5).text(rAxisTails[i]);

  // hysteresis record drawn as one continuous pen path
  const line = d3.line().x(d => x(d[0])).y(d => y(d[1]))
    .curve(d3.curveCatmullRom.alpha(0.5));
  g.append("path").datum(p.loops.flat())
    .attr("d", line)
    .attr("fill", "none").attr("stroke", "#000").attr("stroke-width", 1.75)
    .attr("stroke-linejoin", "round").attr("stroke-linecap", "round");
});
</script>
</body>
</html>
